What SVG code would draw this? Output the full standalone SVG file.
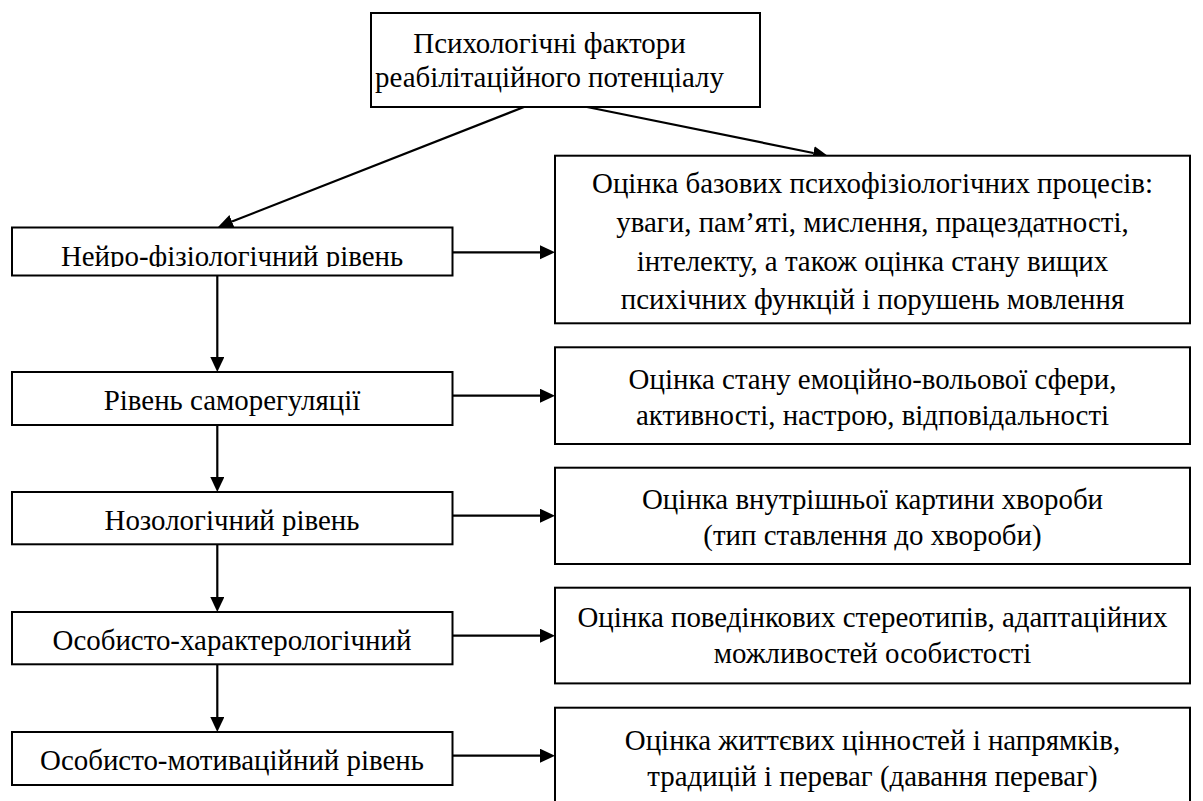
<svg xmlns="http://www.w3.org/2000/svg" width="1203" height="801" viewBox="0 0 1203 801">
<style>
.box{fill:#fff;stroke:#000;stroke-width:2}
.t{font-family:'Liberation Serif',serif;font-size:28.9px;fill:#000;text-anchor:middle}
.c{stroke:#000;stroke-width:2.2;fill:none}
</style>
<defs>
<marker id="ah" markerUnits="userSpaceOnUse" markerWidth="16" markerHeight="15" refX="0" refY="7" orient="auto">
<path d="M0,0 L15,7 L0,14 Z" fill="#000"/>
</marker>
<clipPath id="clipN"><rect x="11" y="226" width="443" height="41"/></clipPath>
</defs>
<rect width="1203" height="801" fill="#fff"/>
<g id="connectors">
<line class="c" x1="524" y1="107" x2="232" y2="221.5" marker-end="url(#ah)"/>
<line class="c" x1="587" y1="107" x2="813.3" y2="153" marker-end="url(#ah)"/>
<line class="c" x1="452.5" y1="252.3" x2="540" y2="252.3" marker-end="url(#ah)"/>
<line class="c" x1="452.5" y1="395.7" x2="540" y2="395.7" marker-end="url(#ah)"/>
<line class="c" x1="452.5" y1="515.7" x2="540" y2="515.7" marker-end="url(#ah)"/>
<line class="c" x1="452.5" y1="635.7" x2="540" y2="635.7" marker-end="url(#ah)"/>
<line class="c" x1="452.5" y1="755.7" x2="540" y2="755.7" marker-end="url(#ah)"/>
<line class="c" x1="217.3" y1="276" x2="217.3" y2="357" marker-end="url(#ah)"/>
<line class="c" x1="217.3" y1="425" x2="217.3" y2="477" marker-end="url(#ah)"/>
<line class="c" x1="217.3" y1="544" x2="217.3" y2="597" marker-end="url(#ah)"/>
<line class="c" x1="217.3" y1="664" x2="217.3" y2="717" marker-end="url(#ah)"/>
</g>
<g id="top">
<rect class="box" x="371" y="13" width="389" height="94"/>
<text class="t" x="549.5" y="53">Психологічні фактори</text>
<text class="t" x="549.5" y="87">реабілітаційного потенціалу</text>
</g>
<g id="neuro">
<rect class="box" x="12" y="227.5" width="440.5" height="48"/>
<text class="t" x="232" y="266" clip-path="url(#clipN)">Нейро-фізіологічний рівень</text>
</g>
<g id="selfreg">
<rect class="box" x="12" y="372" width="440.5" height="53"/>
<text class="t" x="232" y="409.5">Рівень саморегуляції</text>
</g>
<g id="nozo">
<rect class="box" x="12" y="492" width="440.5" height="52.3"/>
<text class="t" x="232" y="529.5">Нозологічний рівень</text>
</g>
<g id="charact">
<rect class="box" x="12" y="612" width="440.5" height="52.3"/>
<text class="t" x="232" y="649.5">Особисто-характерологічний</text>
</g>
<g id="motiv">
<rect class="box" x="12" y="732" width="440.5" height="53"/>
<text class="t" x="232" y="770">Особисто-мотиваційний рівень</text>
</g>
<g id="r1">
<rect class="box" x="555" y="155.7" width="635" height="167.6"/>
<text class="t" x="872.5" y="193">Оцінка базових психофізіологічних процесів:</text>
<text class="t" x="872.5" y="232">уваги, пам’яті, мислення, працездатності,</text>
<text class="t" x="872.5" y="270.5">інтелекту, а також оцінка стану вищих</text>
<text class="t" x="872.5" y="309">психічних функцій і порушень мовлення</text>
</g>
<g id="r2">
<rect class="box" x="555" y="347.3" width="635" height="96.7"/>
<text class="t" x="872.5" y="389">Оцінка стану емоційно-вольової сфери,</text>
<text class="t" x="872.5" y="425">активності, настрою, відповідальності</text>
</g>
<g id="r3">
<rect class="box" x="555" y="467.7" width="635" height="96.3"/>
<text class="t" x="872.5" y="509">Оцінка внутрішньої картини хвороби</text>
<text class="t" x="872.5" y="545">(тип ставлення до хвороби)</text>
</g>
<g id="r4">
<rect class="box" x="555" y="587.7" width="635" height="95.7"/>
<text class="t" x="872.5" y="627">Оцінка поведінкових стереотипів, адаптаційних</text>
<text class="t" x="872.5" y="663">можливостей особистості</text>
</g>
<g id="r5">
<rect class="box" x="555" y="707.7" width="635" height="97"/>
<text class="t" x="872.5" y="750">Оцінка життєвих цінностей і напрямків,</text>
<text class="t" x="872.5" y="786">традицій і переваг (давання переваг)</text>
</g>
</svg>
